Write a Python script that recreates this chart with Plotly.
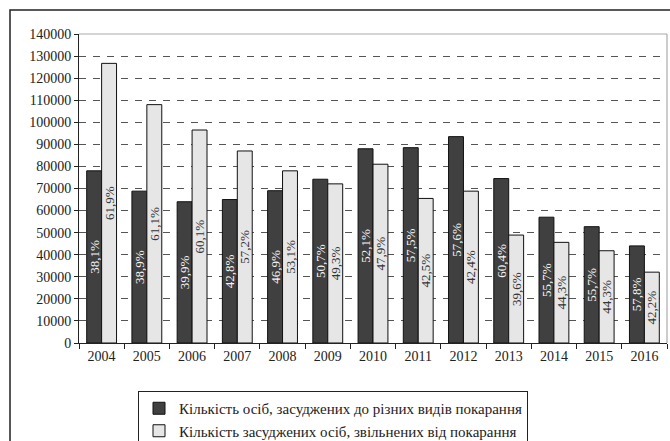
import plotly.graph_objects as go

years = ["2004", "2005", "2006", "2007", "2008", "2009", "2010",
         "2011", "2012", "2013", "2014", "2015", "2016"]
convicted = [78000, 68800, 64000, 65000, 69000, 74200, 88000,
             88500, 93500, 74500, 57000, 52700, 44000]
released = [126700, 108000, 96500, 87000, 78000, 72100, 81000,
            65500, 68800, 48900, 45600, 41800, 32100]
convicted_pct = ["38,1%", "38,9%", "39,9%", "42,8%", "46,9%", "50,7%", "52,1%",
                 "57,5%", "57,6%", "60,4%", "55,7%", "55,7%", "57,8%"]
released_pct = ["61,9%", "61,1%", "60,1%", "57,2%", "53,1%", "49,3%", "47,9%",
                "42,5%", "42,4%", "39,6%", "44,3%", "44,3%", "42,2%"]
name_convicted = "Кількість осіб, засуджених до різних видів покарання"
name_released = "Кількість засуджених осіб, звільнених від покарання"
y_ticks = list(range(0, 140001, 10000))

FONT = "Liberation Serif, Times New Roman, serif"

fig = go.Figure()
fig.add_trace(go.Bar(
    x=years, y=convicted, name=name_convicted,
    text=convicted_pct, textposition="inside", insidetextanchor="middle",
    textangle=-90, constraintext="none",
    textfont=dict(family=FONT, size=13, color="#f4f4f4"),
    marker=dict(color="#404040", line=dict(color="#111111", width=1)),
))
fig.add_trace(go.Bar(
    x=years, y=released, name=name_released,
    text=released_pct, textposition="inside", insidetextanchor="middle",
    textangle=-90, constraintext="none",
    textfont=dict(family=FONT, size=13, color="#333333"),
    marker=dict(color="#e6e6e6", line=dict(color="#111111", width=1)),
))

L, R, T, B = 79, 3, 34, 98
W, H = 670, 441
pw, ph = W - L - R, H - T - B

fig.update_layout(
    width=W, height=H,
    margin=dict(l=L, r=R, t=T, b=B, pad=0, autoexpand=False),
    paper_bgcolor="white", plot_bgcolor="white",
    barmode="group", bargap=0.34, bargroupgap=0,
    font=dict(family=FONT, size=14, color="#222222"),
    showlegend=True,
    legend=dict(
        x=(138 - L) / pw, y=(343 - 391) / ph, xanchor="left", yanchor="top",
        bordercolor="#222222", borderwidth=1, bgcolor="white",
        font=dict(family=FONT, size=15, color="#222222"),
        itemwidth=30, tracegroupgap=0,
    ),
    xaxis=dict(
        type="category", showline=True, linecolor="#222222", linewidth=1,
        ticks="outside", tickson="boundaries", ticklen=5, tickcolor="#222222",
        showgrid=False, tickfont=dict(family=FONT, size=14, color="#222222"),
        fixedrange=True,
    ),
    yaxis=dict(
        range=[0, 140000], tickvals=y_ticks, ticktext=[str(v) for v in y_ticks],
        showline=True, linecolor="#222222", linewidth=1,
        ticks="outside", ticklen=4, tickcolor="#222222",
        showgrid=True, gridcolor="#555555", gridwidth=1, griddash="7px,7px",
        zeroline=False, tickfont=dict(family=FONT, size=14, color="#222222"),
        fixedrange=True,
    ),
    shapes=[
        dict(type="line", xref="paper", yref="paper", x0=1, x1=1, y0=0, y1=1,
             line=dict(color="#999999", width=1)),
        dict(type="line", xref="paper", yref="paper", x0=0, x1=1, y0=1, y1=1,
             line=dict(color="#aaaaaa", width=1)),
        dict(type="rect", xref="paper", yref="paper",
             x0=(10 - L) / pw, x1=(680 - L) / pw,
             y0=(343 - 460) / ph, y1=1 + (T - 10) / ph,
             line=dict(color="#222222", width=1.5), fillcolor="rgba(0,0,0,0)"),
    ],
)

fig.write_html(
    "out.html",
    config={"displayModeBar": False},
    post_script="document.body.style.margin='0';document.body.style.overflow='hidden';",
)
